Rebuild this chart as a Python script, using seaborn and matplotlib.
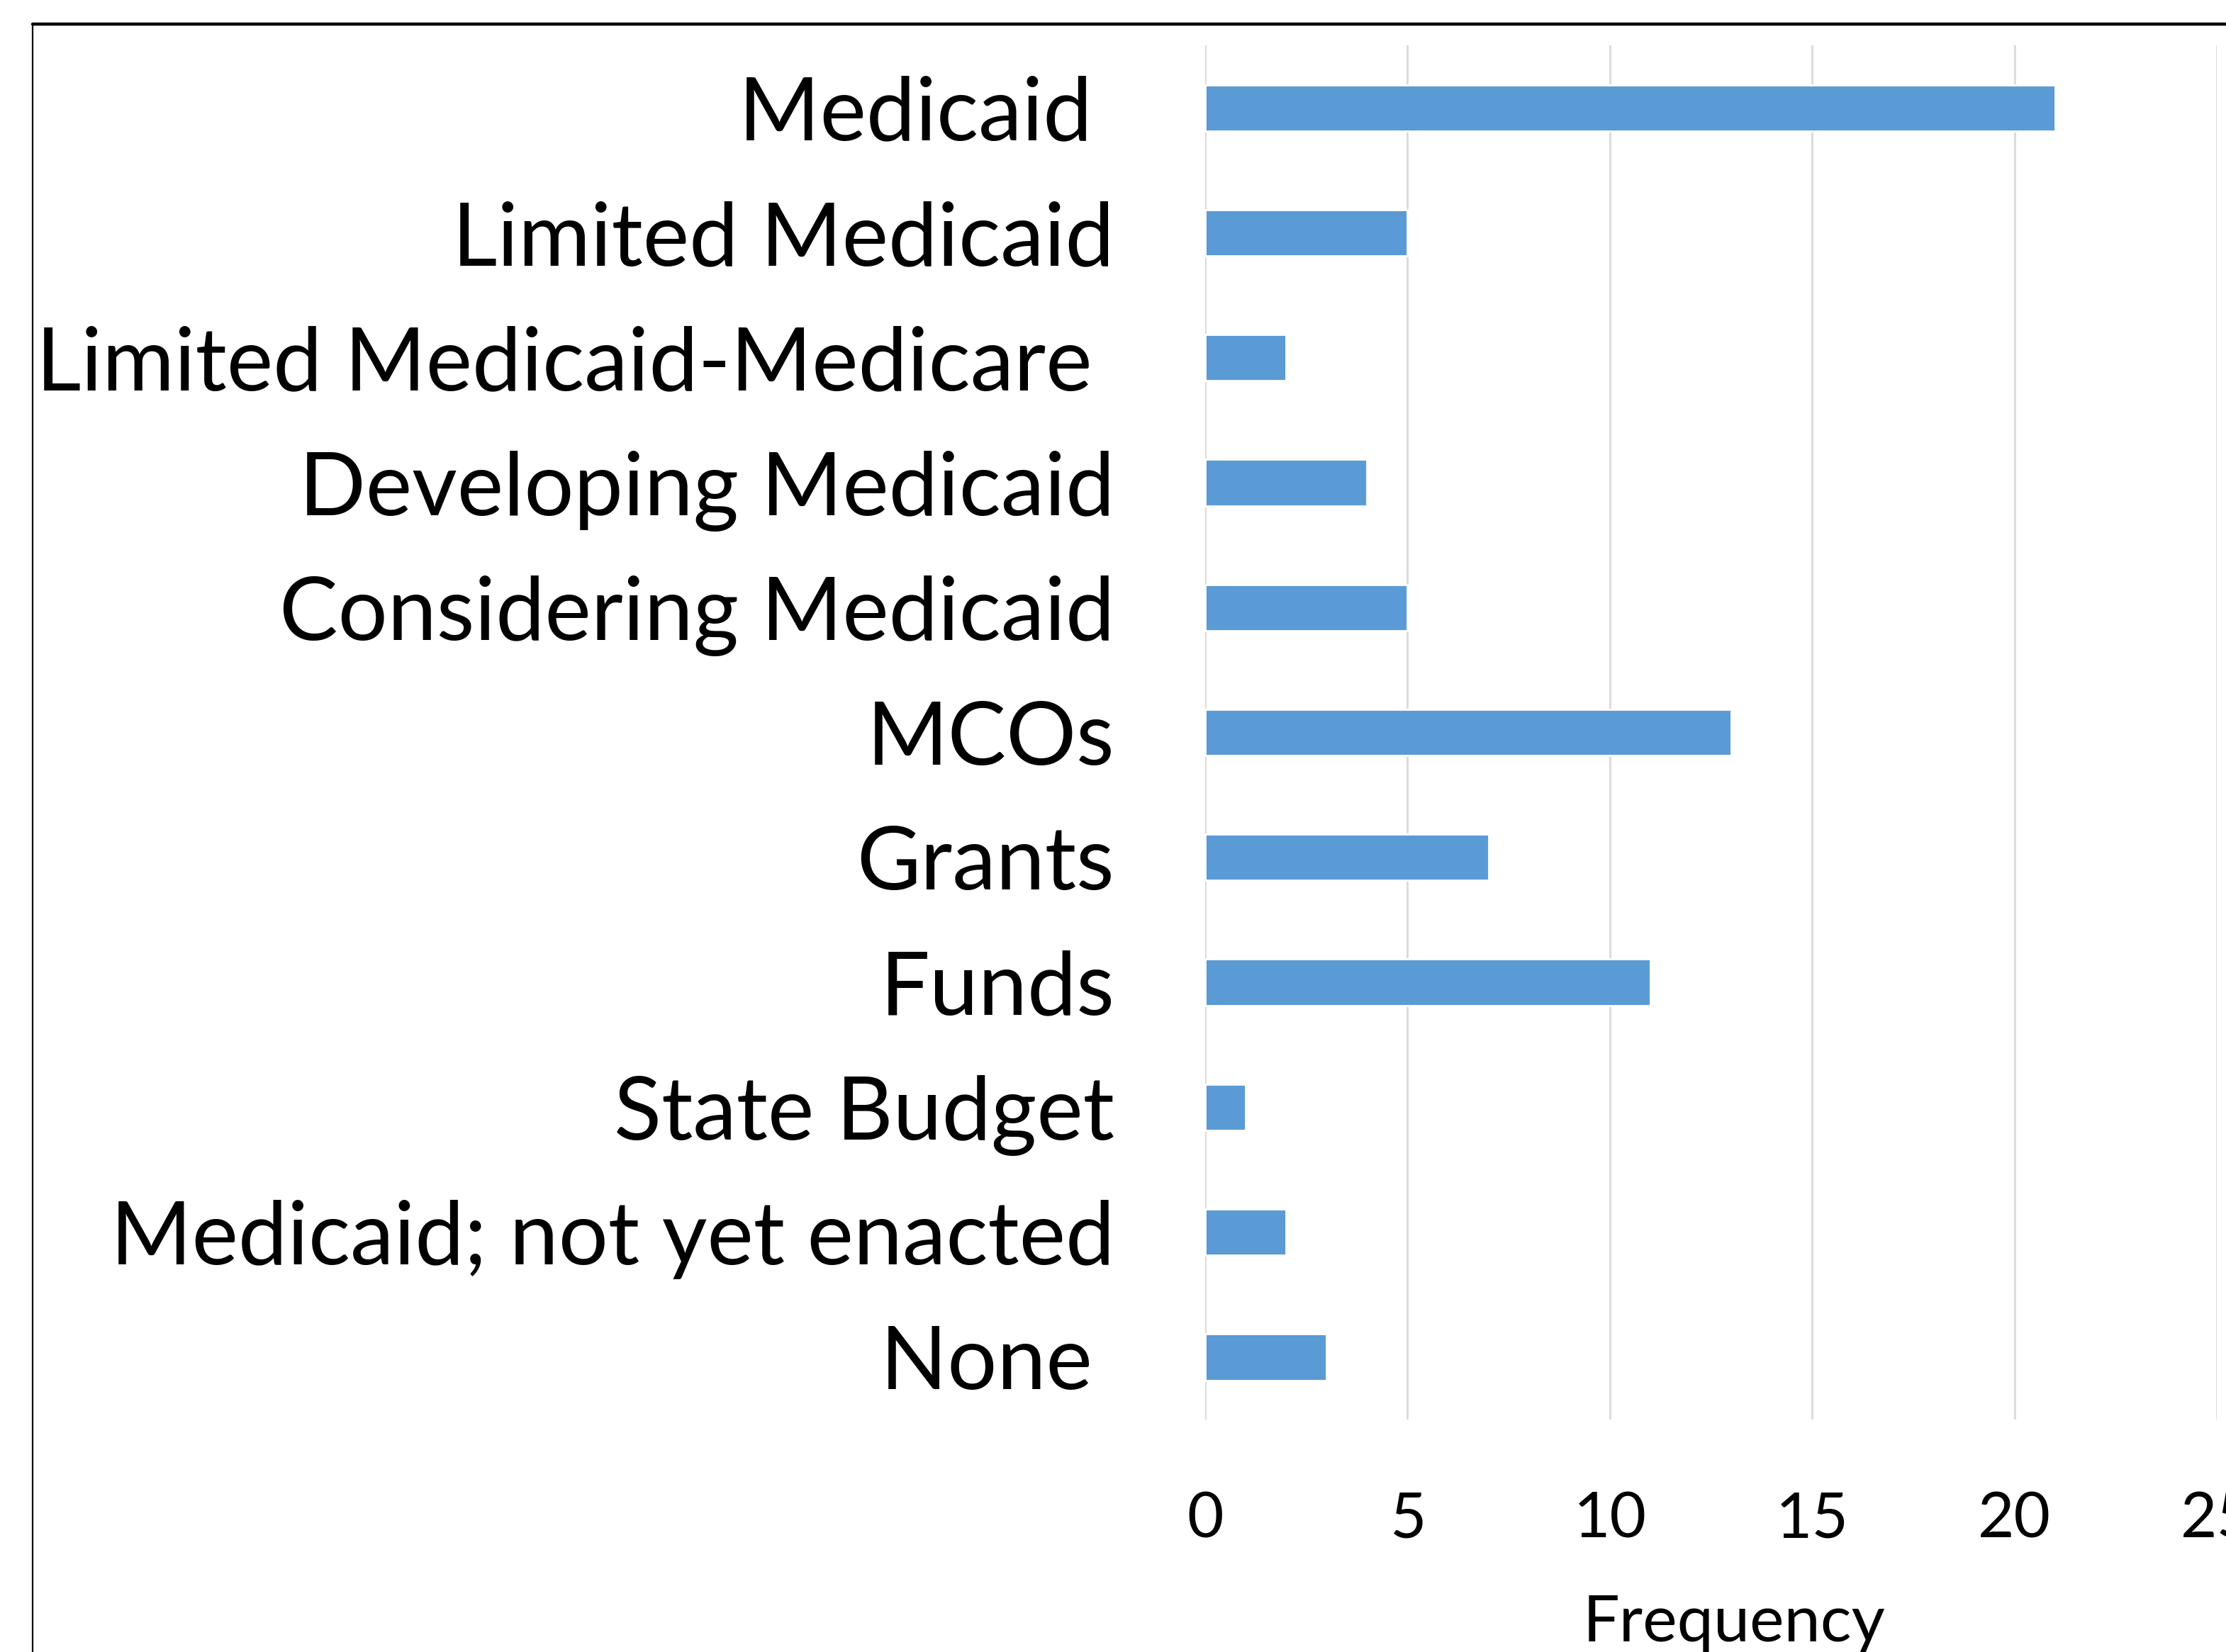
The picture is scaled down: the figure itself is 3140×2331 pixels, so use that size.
import matplotlib
matplotlib.use("Agg")
import matplotlib.pyplot as plt
import seaborn as sns
import pandas as pd
from matplotlib.lines import Line2D

# categories (trailing spaces kept as in the original labels)
categories = ["Medicaid ", "Limited Medicaid", "Limited Medicaid-Medicare ",
              "Developing Medicaid", "Considering Medicaid", "MCOs", "Grants",
              "Funds", "State Budget", "Medicaid; not yet enacted", "None "]
frequency = [21, 5, 2, 4, 5, 13, 7, 11, 1, 2, 3]
x_ticks = [0, 5, 10, 15, 20, 25]

sns.set_style("white")
plt.rcParams['font.family'] = ['Lato', 'DejaVu Sans']
plt.rcParams['text.color'] = 'black'
plt.rcParams['xtick.color'] = 'black'
plt.rcParams['ytick.color'] = 'black'
plt.rcParams['axes.labelcolor'] = 'black'

df = pd.DataFrame({"category": categories, "frequency": frequency})

fig = plt.figure(figsize=(15.7, 11.655), dpi=200)
ax = fig.add_axes([0.5414, 0.1407, 0.4545, 0.8318])

sns.barplot(data=df, x="frequency", y="category", orient="h",
            color="#5B9BD5", width=0.37, saturation=1, ax=ax, zorder=3)

ax.set_xlim(0, 25)
ax.set_ylim(10.5, -0.5)
ax.set_xticks(x_ticks)
ax.set_xticklabels([str(t) for t in x_ticks], fontsize=32)
ax.tick_params(axis='x', length=0, pad=36)
ax.tick_params(axis='y', length=0, pad=46, labelsize=44.5)
ax.grid(axis='x', color='#d9d9d9', linewidth=1.0, zorder=0)
ax.grid(axis='y', visible=False)
for s in ax.spines.values():
    s.set_visible(False)

ax.set_ylabel("")
ax.set_xlabel("Frequency", fontsize=33)
ax.xaxis.set_label_coords(0.523, -0.127)

# chart-area border (cropped on the right and bottom)
fig.add_artist(Line2D([46/3140, 1.0], [1 - 34/2331, 1 - 34/2331],
                      color='black', linewidth=1.6, transform=fig.transFigure))
fig.add_artist(Line2D([46/3140, 46/3140], [0, 1 - 34/2331],
                      color='black', linewidth=0.8, transform=fig.transFigure))

fig.savefig("out.png", dpi=200)
